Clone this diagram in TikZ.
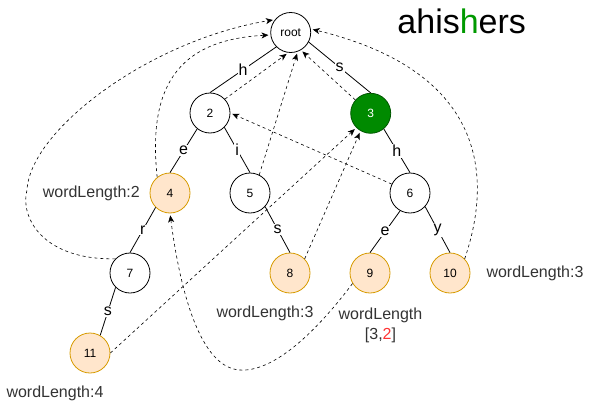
\documentclass[tikz,border=0pt]{standalone}
\usepackage{fontspec}
\setmainfont{Liberation Sans}
\usetikzlibrary{arrows.meta}
\definecolor{leafline}{RGB}{215,155,0}
\definecolor{leaffill}{RGB}{255,230,204}
\definecolor{hitgreen}{RGB}{0,138,0}
\definecolor{hitline}{RGB}{0,87,0}
\definecolor{titlegreen}{RGB}{0,153,0}
\definecolor{countred}{RGB}{255,51,51}

\begin{document}
\begin{tikzpicture}[x=1pt,y=-1pt,line join=round,line width=0.8pt,
 trienode/.style={circle,draw,minimum size=40pt,inner sep=0pt,font=\fontsize{12}{14}\selectfont},
 wordnode/.style={trienode,draw=leafline,fill=leaffill},
 hitnode/.style={trienode,draw=hitline,fill=hitgreen,text=white},
 edgelabel/.style={fill=white,inner sep=1pt,font=\fontsize{16}{18}\selectfont},
 lenlabel/.style={text=black!80,font=\fontsize{16}{20}\selectfont},
 faillink/.style={line width=0.6pt,dash pattern=on 3pt off 3pt,-{Stealth[length=7pt,width=6pt,inset=2pt]},shorten >=2pt}]
 \useasboundingbox (0,0) rectangle (591,404);
 \node[trienode] (root) at (290.7,32.5) {root};
 \node[trienode] (n2) at (210,113) {2};\node[hitnode] (n3) at (370.7,113.3) {3};
 \node[wordnode] (n4) at (170,193) {4};\node[trienode] (n5) at (250,193) {5};
 \node[trienode] (n6) at (410,193) {6};\node[trienode] (n7) at (130,273) {7};
 \node[wordnode] (n8) at (290,273) {8};\node[wordnode] (n9) at (370,273) {9};
 \node[wordnode] (n10) at (450,273) {10};\node[wordnode] (n11) at (90,353) {11};
 \foreach \a/\b/\l in {root.225/n2.north/h,root.332/n3.north/s,n2.231/n4.north/e,n2.315/n5.north/i,
  n3.310/n6.north/h,n4.225/n7.north/r,n5.318/n8.north/s,n6.241/n9.north/e,n6.318/n10.north/y,n7.225/n11.60/s}
  {\draw (\a) -- node[edgelabel] {\l} (\b);}
 \draw[faillink] (n2.43) -- (root.263);
 \draw[faillink] (n5.63) -- (root.290);
 \draw[faillink] (n3.139) -- (root.300);
 \draw[faillink] (n6.154) -- (n2.east);
 \draw[faillink] (n8.44) -- (n3.240);
 \draw[faillink] (n11.east) -- (n3.225);
 \draw[faillink] (n4.129) .. controls (148,90) and (175,40) .. (root.187);
 \draw[faillink] (n7.136) .. controls (40,260) and (20,215) .. (27,190) .. controls (30,130) and (150,40) .. (root.141);
 \draw[faillink] (n10.44) .. controls (495,170) and (480,70) .. (root.10);
 \draw[faillink] (n9.211) .. controls (310,340) and (270,372) .. (240,370) .. controls (200,368) and (180,290) .. (n4.south);
 \node[lenlabel,anchor=east] (len4) at (143.5,193) {wordLength:2};
 \node[lenlabel] (len8) at (265,313) {wordLength:3};
 \node[lenlabel,align=center] (len9) at (380.5,325) {wordLength\\{}[3,\textcolor{countred}{2}]};
 \node[lenlabel] (len10) at (535,273) {wordLength:3};
 \node[lenlabel] (len11) at (55,393) {wordLength:4};
 \node[font=\fontsize{34}{40}\selectfont] (title) at (461.7,21.5) {ahis\textcolor{titlegreen}{h}ers};
\end{tikzpicture}
\end{document}
